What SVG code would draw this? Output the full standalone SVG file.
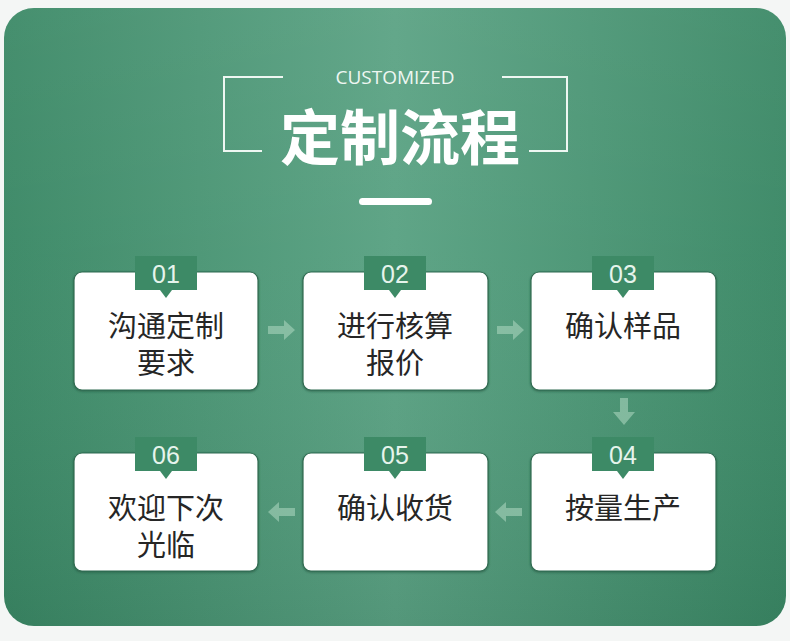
<svg xmlns="http://www.w3.org/2000/svg" width="790" height="641" viewBox="0 0 790 641">
<defs>
<linearGradient id="bgH" x1="0" y1="0" x2="1" y2="0">
<stop offset="0" stop-color="#3a8865"/>
<stop offset="0.5" stop-color="#5aa283"/>
<stop offset="1" stop-color="#3a8865"/>
</linearGradient>
<linearGradient id="bgV" x1="0" y1="0" x2="0" y2="1">
<stop offset="0" stop-color="#ffffff" stop-opacity="0.06"/>
<stop offset="0.4" stop-color="#ffffff" stop-opacity="0.03"/>
<stop offset="1" stop-color="#000000" stop-opacity="0.07"/>
</linearGradient>
<filter id="sh" x="-5%" y="-5%" width="110%" height="115%">
<feDropShadow dx="0" dy="1" stdDeviation="1" flood-color="#1d4d37" flood-opacity="0.6"/>
</filter>
</defs>
<style>
.box{fill:#ffffff;stroke:#2f6b50;stroke-width:1.2;}
.tab{fill:#3d8a66;}
.num{font-family:"Liberation Sans","Noto Sans",sans-serif;font-size:25px;fill:#e6f4ec;text-anchor:middle;}
.lbl{font-family:"Noto Sans CJK SC","Noto Sans",sans-serif;font-size:29px;fill:#262626;text-anchor:middle;}
.arr{fill:#a8d3bd;opacity:0.6;}
.brk{fill:none;stroke:#eef7f2;stroke-width:2;}
</style>
<rect x="0" y="0" width="790" height="641" fill="#f4f6f5"/>
<rect x="4" y="8" width="782" height="618" rx="30" fill="url(#bgH)"/>
<rect x="4" y="8" width="782" height="618" rx="30" fill="url(#bgV)"/>
<g id="title">
<text x="395" y="84" font-family="'Open Sans','Noto Sans',sans-serif" font-size="19" fill="#eef7f2" text-anchor="middle">CUSTOMIZED</text>
<text x="400" y="160" font-family="'Noto Sans CJK SC',sans-serif" font-weight="bold" font-size="60" fill="#ffffff" text-anchor="middle">定制流程</text>
<polyline class="brk" points="283,77 224,77 224,151 262,151"/>
<polyline class="brk" points="502,77 567,77 567,151 529,151"/>
<rect x="359" y="198" width="73" height="7" rx="3.5" fill="#ffffff"/>
</g>
<g id="connectors">
<path class="arr" d="M268,326 h16 v-6 l11,10 l-11,10 v-6 h-16 z"/>
<path class="arr" d="M497,326 h16 v-6 l11,10 l-11,10 v-6 h-16 z"/>
<path class="arr" d="M620,398 v14 h-7 l11,13 l11,-13 h-7 v-14 z"/>
<path class="arr" d="M522,508 h-16 v-6 l-11,10 l11,10 v-6 h16 z"/>
<path class="arr" d="M295,508 h-16 v-6 l-11,10 l11,10 v-6 h16 z"/>
</g>
<g id="n1">
<rect class="box" x="74" y="272" width="184" height="118" rx="8" filter="url(#sh)"/>
<path class="tab" d="M135,256 h62 v34 h-25 l-6,8 l-6,-8 h-25 z"/>
<text class="num" x="166" y="283">01</text>
<text class="lbl" x="166" y="337">沟通定制<tspan x="166" y="374">要求</tspan></text>
</g>
<g id="n2">
<rect class="box" x="303" y="272" width="185" height="118" rx="8" filter="url(#sh)"/>
<path class="tab" d="M364,256 h62 v34 h-25 l-6,8 l-6,-8 h-25 z"/>
<text class="num" x="395" y="283">02</text>
<text class="lbl" x="395" y="337">进行核算<tspan x="395" y="374">报价</tspan></text>
</g>
<g id="n3">
<rect class="box" x="531" y="272" width="185" height="118" rx="8" filter="url(#sh)"/>
<path class="tab" d="M592,256 h62 v34 h-25 l-6,8 l-6,-8 h-25 z"/>
<text class="num" x="623" y="283">03</text>
<text class="lbl" x="623" y="337">确认样品</text>
</g>
<g id="n4">
<rect class="box" x="531" y="453" width="185" height="118" rx="8" filter="url(#sh)"/>
<path class="tab" d="M592,437 h62 v34 h-25 l-6,8 l-6,-8 h-25 z"/>
<text class="num" x="623" y="464">04</text>
<text class="lbl" x="623" y="519">按量生产</text>
</g>
<g id="n5">
<rect class="box" x="303" y="453" width="185" height="118" rx="8" filter="url(#sh)"/>
<path class="tab" d="M364,437 h62 v34 h-25 l-6,8 l-6,-8 h-25 z"/>
<text class="num" x="395" y="464">05</text>
<text class="lbl" x="395" y="519">确认收货</text>
</g>
<g id="n6">
<rect class="box" x="74" y="453" width="184" height="118" rx="8" filter="url(#sh)"/>
<path class="tab" d="M135,437 h62 v34 h-25 l-6,8 l-6,-8 h-25 z"/>
<text class="num" x="166" y="464">06</text>
<text class="lbl" x="166" y="519">欢迎下次<tspan x="166" y="556">光临</tspan></text>
</g>
</svg>
